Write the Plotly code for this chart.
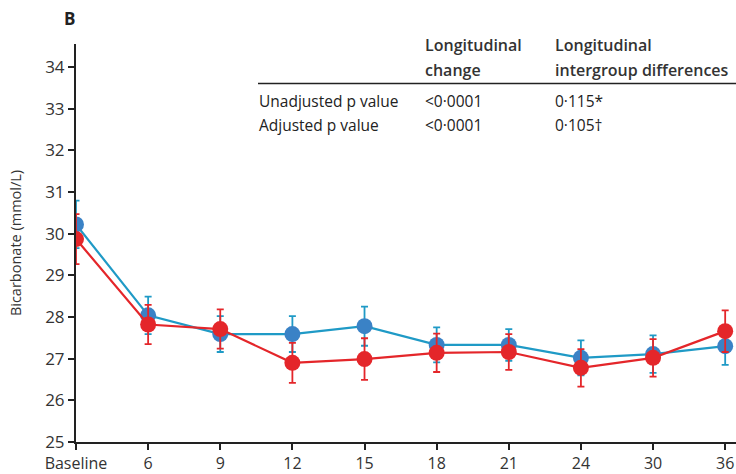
import plotly.graph_objects as go

# Time points (months) and tick labels
time_labels = ["Baseline", "6", "9", "12", "15", "18", "21", "24", "30", "36"]
positions = list(range(len(time_labels)))

# Mean bicarbonate (mmol/L) and error half-widths per group
blue_mean = [30.22, 28.04, 27.59, 27.59, 27.78, 27.33, 27.33, 27.02, 27.11, 27.30]
blue_err = [0.57, 0.45, 0.43, 0.43, 0.47, 0.42, 0.38, 0.42, 0.45, 0.45]
red_mean = [29.87, 27.82, 27.71, 26.90, 26.99, 27.14, 27.16, 26.78, 27.02, 27.66]
red_err = [0.60, 0.47, 0.47, 0.48, 0.50, 0.46, 0.43, 0.45, 0.45, 0.50]

# p-value table
header_change = ["Longitudinal", "change"]
header_diff = ["Longitudinal", "intergroup differences"]
table_rows = ["Unadjusted p value", "Adjusted p value"]
col_change = ["<0·0001", "<0·0001"]
col_diff = ["0·115*", "0·105†"]

BLUE_LINE = "#1f9ac6"
BLUE_MARK = "#3a82c6"
RED = "#e4262a"
FONT = "Open Sans"

fig = go.Figure()

fig.add_trace(go.Scatter(
    x=positions, y=blue_mean, mode="lines+markers",
    line=dict(color=BLUE_LINE, width=2.2),
    marker=dict(color=BLUE_MARK, size=16),
    error_y=dict(type="data", array=blue_err, color=BLUE_LINE, thickness=1.8, width=3.5),
    showlegend=False,
))
fig.add_trace(go.Scatter(
    x=positions, y=red_mean, mode="lines+markers",
    line=dict(color=RED, width=2.2),
    marker=dict(color=RED, size=16),
    error_y=dict(type="data", array=red_err, color=RED, thickness=1.8, width=3.5),
    showlegend=False,
))

W, H = 736, 474
L, R, T, B = 76, 0, 44, 28
pw, ph = W - L - R, H - T - B


def px_x(px):
    return (px - L) / pw


def px_y(py):
    return (H - B - py) / ph


body_font = dict(size=15.5, color="#222", family=FONT)
head_font = dict(size=16, color="#333", family=FONT, weight=600)

ann = []
ann.append(dict(text="<b>B</b>", x=px_x(62), y=px_y(18), xanchor="left", yanchor="middle",
                font=dict(size=17, color="#222", family=FONT)))
for hx, lines in zip([423, 553], [header_change, header_diff]):
    for ly, txt in zip([45, 70], lines):
        ann.append(dict(text=txt, x=px_x(hx), y=px_y(ly), xanchor="left", yanchor="middle",
                        font=head_font))
for ry, lab, c1, c2 in zip([102, 126], table_rows, col_change, col_diff):
    ann.append(dict(text=lab, x=px_x(257), y=px_y(ry), xanchor="left", yanchor="middle", font=body_font))
    ann.append(dict(text=c1, x=px_x(423), y=px_y(ry), xanchor="left", yanchor="middle", font=body_font))
    ann.append(dict(text=c2, x=px_x(553), y=px_y(ry), xanchor="left", yanchor="middle", font=body_font))
for a in ann:
    a.update(xref="paper", yref="paper", showarrow=False)

fig.update_layout(
    width=W, height=H,
    margin=dict(l=L, r=R, t=T, b=B),
    paper_bgcolor="white", plot_bgcolor="white",
    font=dict(family=FONT, color="#333"),
    annotations=ann,
    shapes=[dict(type="line", xref="paper", yref="paper",
                 x0=px_x(258), x1=1, y0=px_y(84), y1=px_y(84),
                 line=dict(color="#222", width=1.5))],
    xaxis=dict(
        range=[0, 9.15], tickmode="array", tickvals=positions, ticktext=time_labels,
        showgrid=False, zeroline=False, showline=True, linecolor="#222", linewidth=2,
        ticks="outside", ticklen=6, tickwidth=2, tickcolor="#222",
        tickfont=dict(size=16, color="#333", family=FONT),
    ),
    yaxis=dict(
        range=[25, 34.55], tickmode="array", tickvals=list(range(25, 35)),
        showgrid=False, zeroline=False, showline=True, linecolor="#222", linewidth=2,
        ticks="outside", ticklen=6, tickwidth=2, tickcolor="#222",
        tickfont=dict(size=17, color="#333", family=FONT),
        title=dict(text="Bicarbonate (mmol/L)", font=dict(size=14.5, color="#333", family=FONT), standoff=20),
    ),
)

fig.write_html("out.html")
